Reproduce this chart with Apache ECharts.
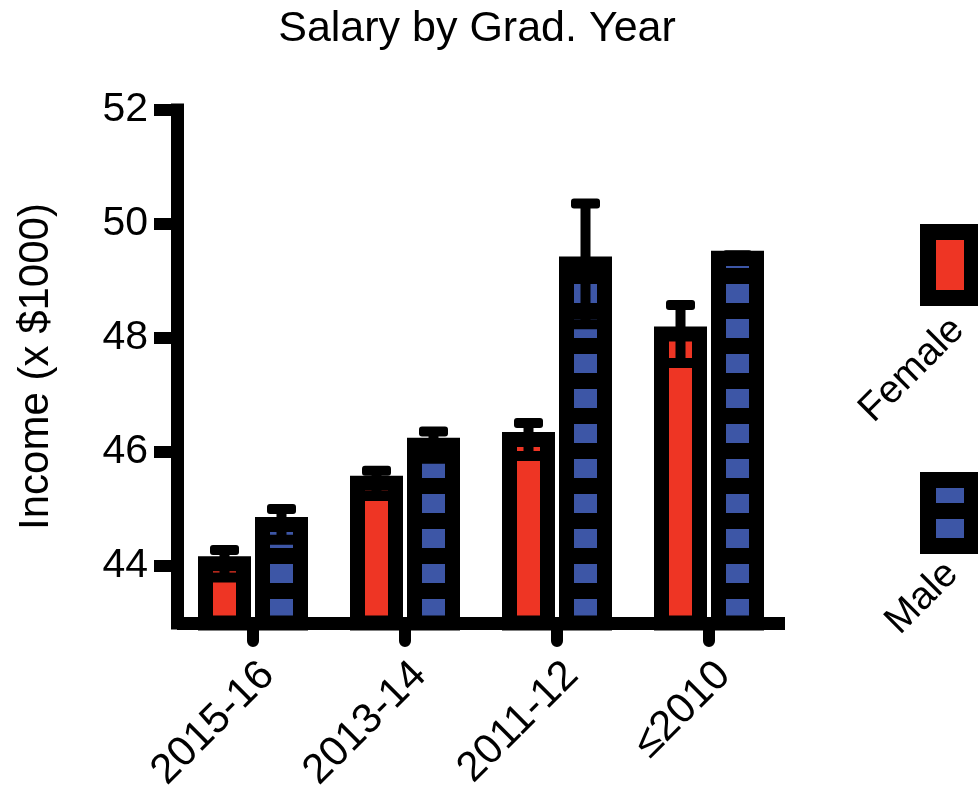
<!DOCTYPE html>
<html><head><meta charset="utf-8">
<script src="https://cdn.jsdelivr.net/npm/echarts@6/dist/echarts.min.js"></script>
<style>html,body{margin:0;padding:0;background:#fff}#c{width:978px;height:801px}</style>
</head><body><div id="c"></div>
<script>
const categories = ['2015-16', '2013-14', '2011-12', '≤2010'];
const femaleMean = [44.04, 45.45, 46.22, 48.07];
const femaleErr  = [0.24, 0.22, 0.29, 0.51];
const maleMean   = [44.73, 46.12, 49.30, 49.40];
const maleErr    = [0.27, 0.24, 1.06, 0.05];
const yMin = 43, yMax = 52;
const yTicks     = [44, 46, 48, 50, 52];
const seriesNames = ['Female', 'Male'];
const titleText = 'Salary by Grad. Year';
const yAxisName = 'Income (x $1000)';

const FONT = '"Liberation Sans", Arial, sans-serif';
const RED = '#ee3524', BLUE = '#3d56a6';
const BAR_W = 38, BAR_GAP = 0.5, BORDER = 15;
const HALF = BAR_W * (1 + BAR_GAP) / 2;

// Thick black outline centred on each bar edge (Prism style)
function outlineSeries(name, means, offset) {
  return {
    type: 'custom', name: name + ' outline', z: 3, silent: true,
    data: means.map((m, i) => [i, m]),
    encode: { x: 0, y: 1 },
    renderItem(params, api) {
      const i = api.value(0), m = api.value(1);
      const p = api.coord([i, m]);
      const base = api.coord([i, yMin])[1];
      const x = p[0] + offset;
      return { type: 'rect', shape: { x: x - BAR_W / 2, y: p[1], width: BAR_W, height: base - p[1] },
        style: { fill: 'none', stroke: '#000', lineWidth: BORDER } };
    }
  };
}

function errSeries(name, means, errs, offset) {
  return {
    type: 'custom', name: name + ' SEM', z: 4, silent: true,
    data: means.map((m, i) => [i, m, errs[i]]),
    encode: { x: 0, y: 1 },
    renderItem(params, api) {
      const i = api.value(0), m = api.value(1), e = api.value(2);
      const x = api.coord([i, m])[0] + offset;
      const hi = api.coord([i, m + e])[1], lo = api.coord([i, m - e])[1];
      const cap = (y) => ({ type: 'rect', shape: { x: x - 14.5, y: y - 5, width: 29, height: 10, r: 3 }, style: { fill: '#000' } });
      return { type: 'group', children: [
        { type: 'rect', shape: { x: x - 5, y: hi, width: 10, height: lo - hi }, style: { fill: '#000' } },
        cap(hi), cap(lo)
      ] };
    }
  };
}

const chart = echarts.init(document.getElementById('c'), null, { renderer: 'canvas' });
chart.setOption({
  animation: false,
  backgroundColor: '#fff',
  grid: { left: 177, right: 193, top: 110, bottom: 178, containLabel: false, outerBoundsMode: 'none' },
  legend: {
    data: seriesNames, orient: 'vertical', left: 920, top: 224, padding: 0, itemGap: 166,
    itemWidth: 44, itemHeight: 66, icon: 'rect', formatter: () => '', selectedMode: false,
    itemStyle: { borderWidth: 16, borderColor: '#000' }
  },
  xAxis: {
    type: 'category', data: categories,
    axisLine: { lineStyle: { color: '#000', width: 13, cap: 'butt' } },
    axisTick: { show: true, alignWithLabel: true, length: 18, lineStyle: { color: '#000', width: 12, cap: 'round' } },
    axisLabel: { rotate: 45, interval: 0, fontSize: 42, color: '#000', fontFamily: FONT, margin: 31, verticalAlign: 'top' }
  },
  yAxis: {
    type: 'value', min: yMin, max: yMax,
    name: yAxisName, nameLocation: 'middle', nameRotate: 90, nameGap: 120,
    nameTextStyle: { fontSize: 42, color: '#000', fontFamily: FONT },
    axisLine: { show: true, lineStyle: { color: '#000', width: 13, cap: 'square' } },
    axisTick: { show: true, length: 23, customValues: yTicks, lineStyle: { color: '#000', width: 12 } },
    axisLabel: { customValues: yTicks, fontSize: 41, color: '#000', fontFamily: FONT, margin: 29 },
    splitLine: { show: false }
  },
  graphic: [
    { type: 'text', x: 477, y: 29, style: { text: titleText, fontSize: 43, fontFamily: FONT, fill: '#000', align: 'center', verticalAlign: 'middle' } },
    { type: 'text', x: 912, y: 370, rotation: Math.PI / 4, style: { text: seriesNames[0], fontSize: 39, fontFamily: FONT, fill: '#000', align: 'center', verticalAlign: 'middle' } },
    { type: 'text', x: 922, y: 598, rotation: Math.PI / 4, style: { text: seriesNames[1], fontSize: 39, fontFamily: FONT, fill: '#000', align: 'center', verticalAlign: 'middle' } }
  ],
  series: [
    { name: seriesNames[0], type: 'bar', data: femaleMean, barWidth: BAR_W, barGap: (BAR_GAP * 100) + '%', z: 2,
      itemStyle: { color: RED } },
    { name: seriesNames[1], type: 'bar', data: maleMean, barWidth: BAR_W, barGap: (BAR_GAP * 100) + '%', z: 2,
      itemStyle: { color: BLUE,
        decal: { symbol: 'rect', symbolSize: 1, color: '#000', dashArrayX: [[20, 0]], dashArrayY: [4, 19, 12, 0] } } },
    outlineSeries('Female', femaleMean, -HALF),
    outlineSeries('Male', maleMean, HALF),
    errSeries('Female', femaleMean, femaleErr, -HALF),
    errSeries('Male', maleMean, maleErr, HALF)
  ]
});
</script></body></html>
